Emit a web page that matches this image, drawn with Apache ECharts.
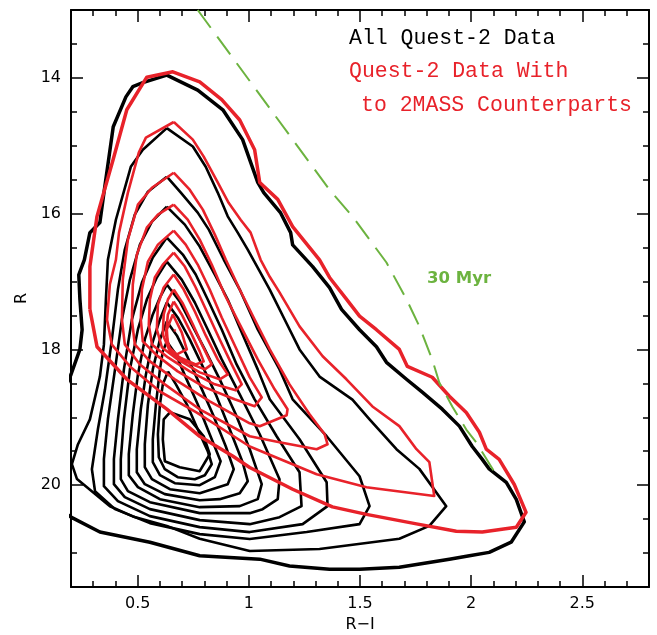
<!DOCTYPE html>
<html>
<head>
<meta charset="utf-8">
<script src="https://cdn.jsdelivr.net/npm/echarts@6/dist/echarts.min.js"></script>
<style>html,body{margin:0;padding:0;background:#fff}#c{width:657px;height:635px}</style>
</head>
<body>
<div id="c"></div>
<script>
// Axis ticks and labels
const xMajorTicks = [0.5, 1, 1.5, 2, 2.5];
const xMinorTicks = [0.3,0.4,0.5,0.6,0.7,0.8,0.9,1.0,1.1,1.2,1.3,1.4,1.5,1.6,1.7,1.8,1.9,2.0,2.1,2.2,2.3,2.4,2.5,2.6,2.7];
const yMajorTicks = [14, 16, 18, 20];
const yMinorTicks = [13.5,14,14.5,15,15.5,16,16.5,17,17.5,18,18.5,19,19.5,20,20.5,21];

// Black contours: All Quest-2 data  [R-I, R]
const B1 = [[0.17,18.6],[0.20,18.37],[0.24,18.0],[0.25,17.71],[0.24,17.26],[0.235,16.9],[0.26,16.68],[0.285,16.28],[0.33,16.13],[0.35,15.65],[0.39,14.72],[0.447,14.28],[0.478,14.13],[0.523,14.07],[0.631,13.96],[0.77,14.18],[0.883,14.47],[0.972,14.91],[1.04,15.54],[1.067,15.69],[1.143,15.99],[1.188,16.28],[1.197,16.46],[1.287,16.78],[1.363,17.09],[1.417,17.41],[1.498,17.71],[1.574,17.96],[1.619,18.19],[1.709,18.44],[1.78,18.63],[1.87,18.88],[1.947,19.13],[2.005,19.43],[2.05,19.62],[2.081,19.76],[2.158,19.96],[2.203,20.21],[2.239,20.54],[2.18,20.84],[2.081,20.99],[1.992,21.04],[1.902,21.09],[1.677,21.21],[1.498,21.24],[1.363,21.24],[1.183,21.19],[1.049,21.09],[0.779,21.04],[0.555,20.84],[0.33,20.69],[0.20,20.47],[0.17,20.4]];
const B2 = [[0.631,14.74],[0.748,15.01],[0.806,15.31],[0.86,15.69],[0.905,16.04],[0.95,16.28],[0.995,16.53],[1.049,16.85],[1.094,17.12],[1.161,17.56],[1.228,18.0],[1.318,18.4],[1.466,18.74],[1.543,19.03],[1.664,19.47],[1.767,19.76],[1.888,20.31],[1.812,20.6],[1.677,20.79],[1.318,20.94],[1.004,20.97],[0.779,20.79],[0.631,20.6],[0.478,20.46],[0.375,20.31],[0.227,19.91],[0.204,19.69],[0.231,19.4],[0.285,19.03],[0.33,18.4],[0.348,17.93],[0.357,17.26],[0.366,16.68],[0.402,16.09],[0.469,15.31],[0.523,15.06],[0.631,14.74]];
const B3 = [[0.631,15.456],[0.694,15.691],[0.77,15.985],[0.82,16.235],[0.887,16.676],[0.959,17.118],[1.04,17.706],[1.138,18.294],[1.197,18.735],[1.35,19.279],[1.498,19.868],[1.543,20.309],[1.498,20.574],[1.26,20.691],[1.004,20.794],[0.779,20.721],[0.555,20.559],[0.398,20.353],[0.308,20.088],[0.294,19.765],[0.321,19.176],[0.353,18.588],[0.384,17.853],[0.411,17.118],[0.442,16.529],[0.487,16.015],[0.546,15.676],[0.631,15.456]];
const B4 = [[0.631,15.897],[0.712,16.162],[0.779,16.485],[0.847,16.897],[0.905,17.265],[0.972,17.779],[1.04,18.294],[1.094,18.735],[1.228,19.324],[1.35,19.956],[1.354,20.309],[1.242,20.574],[1.004,20.691],[0.779,20.618],[0.555,20.456],[0.411,20.235],[0.348,20.015],[0.348,19.618],[0.366,19.029],[0.398,18.294],[0.429,17.559],[0.465,16.971],[0.51,16.456],[0.564,16.118],[0.631,15.897]];
const B5 = [[0.631,16.353],[0.703,16.603],[0.761,16.897],[0.815,17.265],[0.878,17.706],[0.945,18.221],[1.026,18.735],[1.125,19.279],[1.228,19.809],[1.237,20.309],[1.138,20.471],[1.004,20.574],[0.779,20.515],[0.555,20.353],[0.442,20.176],[0.393,19.985],[0.393,19.618],[0.411,19.029],[0.438,18.294],[0.474,17.559],[0.519,17.015],[0.568,16.647],[0.631,16.353]];
const B6 = [[0.631,16.706],[0.698,16.971],[0.757,17.309],[0.815,17.706],[0.878,18.147],[0.959,18.662],[1.049,19.25],[1.138,19.912],[1.13,20.206],[1.062,20.353],[1.004,20.412],[0.779,20.412],[0.555,20.25],[0.456,20.088],[0.424,19.912],[0.424,19.618],[0.438,19.029],[0.465,18.294],[0.501,17.706],[0.541,17.265],[0.586,16.941],[0.631,16.706]];
const B7 = [[0.631,17.044],[0.689,17.294],[0.743,17.632],[0.802,18.0],[0.869,18.441],[0.941,18.956],[1.004,19.471],[1.058,19.985],[1.04,20.206],[0.959,20.309],[0.779,20.324],[0.6,20.206],[0.501,20.029],[0.46,19.853],[0.46,19.544],[0.478,18.956],[0.501,18.368],[0.532,17.853],[0.568,17.485],[0.6,17.235],[0.631,17.044]];
const B8 = [[0.631,17.309],[0.68,17.529],[0.734,17.853],[0.788,18.221],[0.851,18.662],[0.914,19.176],[0.972,19.662],[0.995,19.941],[0.959,20.118],[0.869,20.206],[0.779,20.221],[0.622,20.132],[0.532,19.985],[0.496,19.809],[0.496,19.471],[0.514,18.882],[0.537,18.368],[0.564,17.926],[0.6,17.559],[0.631,17.309]];
const B9 = [[0.631,17.588],[0.676,17.794],[0.725,18.118],[0.779,18.515],[0.838,18.956],[0.896,19.426],[0.932,19.765],[0.905,19.985],[0.779,20.118],[0.645,20.059],[0.564,19.912],[0.532,19.735],[0.532,19.397],[0.546,18.809],[0.568,18.294],[0.6,17.853],[0.631,17.588]];
const B10 = [[0.631,17.882],[0.672,18.074],[0.716,18.412],[0.77,18.809],[0.824,19.25],[0.873,19.647],[0.847,19.882],[0.779,20.0],[0.667,19.971],[0.6,19.853],[0.568,19.662],[0.568,19.324],[0.582,18.809],[0.6,18.294],[0.613,18.029],[0.631,17.882]];
const B11 = [[0.636,18.324],[0.672,18.515],[0.721,18.809],[0.77,19.176],[0.815,19.5],[0.833,19.691],[0.802,19.853],[0.757,19.912],[0.68,19.882],[0.622,19.765],[0.595,19.588],[0.591,19.25],[0.6,18.809],[0.613,18.515],[0.636,18.324]];
const B12 = [[0.645,18.926],[0.734,19.029],[0.797,19.279],[0.824,19.544],[0.779,19.794],[0.689,19.735],[0.622,19.647],[0.613,19.324],[0.617,19.029],[0.645,18.926]];

// Red contours: Quest-2 data with 2MASS counterparts
const R1 = [[0.285,17.41],[0.285,16.78],[0.317,16.04],[0.389,15.21],[0.451,14.47],[0.541,13.99],[0.658,13.91],[0.779,14.06],[0.878,14.32],[0.959,14.62],[1.026,15.06],[1.049,15.54],[1.13,15.79],[1.197,16.19],[1.318,16.68],[1.363,16.94],[1.439,17.26],[1.498,17.51],[1.574,17.71],[1.677,18.0],[1.713,18.25],[1.825,18.41],[1.902,18.69],[1.978,18.93],[2.037,19.22],[2.068,19.47],[2.126,19.62],[2.194,19.99],[2.247,20.4],[2.203,20.62],[2.05,20.69],[1.933,20.68],[1.754,20.57],[1.529,20.43],[1.376,20.32],[1.197,20.06],[1.004,19.74],[0.927,19.57],[0.779,19.28],[0.631,18.88],[0.451,18.44],[0.317,17.96],[0.285,17.41]];
const R2 = [[0.6625,14.65],[0.748,14.91],[0.797,15.16],[0.86,15.54],[0.909,15.84],[0.963,16.09],[1.008,16.28],[1.053,16.68],[1.094,16.93],[1.138,17.16],[1.228,17.66],[1.332,18.1],[1.439,18.44],[1.556,18.84],[1.677,19.13],[1.754,19.47],[1.812,19.66],[1.834,20.16],[1.529,20.03],[1.305,19.84],[1.004,19.43],[0.766,18.93],[0.6,18.62],[0.465,18.25],[0.384,17.93],[0.362,17.56],[0.375,17.04],[0.402,16.68],[0.416,16.28],[0.456,15.69],[0.505,15.1],[0.537,14.88],[0.6625,14.65]];
const R3 = [[0.662,15.397],[0.734,15.647],[0.793,15.941],[0.847,16.309],[0.896,16.676],[0.959,17.118],[1.026,17.559],[1.094,18.0],[1.183,18.515],[1.273,18.956],[1.341,19.25],[1.354,19.397],[1.305,19.471],[1.138,19.368],[1.004,19.279],[0.779,18.882],[0.622,18.515],[0.51,18.221],[0.442,17.926],[0.429,17.559],[0.433,16.971],[0.456,16.382],[0.501,15.868],[0.564,15.618],[0.662,15.397]];
const R4 = [[0.662,15.868],[0.725,16.088],[0.779,16.382],[0.833,16.75],[0.891,17.191],[0.959,17.632],[1.04,18.147],[1.116,18.588],[1.174,18.882],[1.17,18.971],[1.049,19.132],[1.004,19.088],[0.824,18.765],[0.667,18.441],[0.555,18.176],[0.487,17.926],[0.474,17.559],[0.478,17.044],[0.496,16.603],[0.541,16.206],[0.591,16.015],[0.662,15.868]];
const R5 = [[0.662,16.25],[0.716,16.456],[0.77,16.75],[0.824,17.118],[0.878,17.529],[0.941,17.971],[1.004,18.412],[1.058,18.706],[1.026,18.838],[0.936,18.735],[0.802,18.559],[0.68,18.324],[0.586,18.088],[0.523,17.882],[0.514,17.559],[0.519,17.118],[0.546,16.706],[0.591,16.456],[0.662,16.25]];
const R6 = [[0.662,16.574],[0.712,16.779],[0.761,17.088],[0.811,17.441],[0.869,17.853],[0.923,18.221],[0.968,18.515],[0.941,18.603],[0.847,18.515],[0.734,18.324],[0.636,18.118],[0.564,17.926],[0.55,17.632],[0.555,17.265],[0.577,16.941],[0.613,16.75],[0.662,16.574]];
const R7 = [[0.662,16.897],[0.707,17.118],[0.757,17.441],[0.806,17.794],[0.86,18.147],[0.905,18.368],[0.869,18.441],[0.779,18.338],[0.68,18.147],[0.609,17.971],[0.586,17.706],[0.591,17.338],[0.617,17.088],[0.662,16.897]];
const R8 = [[0.662,17.118],[0.703,17.324],[0.748,17.632],[0.793,17.956],[0.833,18.221],[0.802,18.294],[0.712,18.176],[0.645,18.029],[0.613,17.779],[0.617,17.485],[0.636,17.265],[0.662,17.118]];
const R9 = [[0.662,17.294],[0.698,17.485],[0.743,17.779],[0.779,18.029],[0.797,18.176],[0.761,18.221],[0.689,18.118],[0.645,18.0],[0.627,17.779],[0.636,17.485],[0.662,17.294]];
const R10 = [[0.658,17.485],[0.698,17.75],[0.721,18.0],[0.676,18.074],[0.636,17.956],[0.631,17.706],[0.658,17.485]];
const redPeak = [[0.667,17.72]];

// 30 Myr isochrone
const iso30 = [[0.77,13.0],[1.363,15.65],[1.466,16.04],[1.619,16.72],[1.709,17.26],[1.767,17.66],[1.825,18.15],[1.857,18.49],[1.915,18.84],[1.978,19.18],[2.023,19.37],[2.117,19.87]];

const blackSet = [B1,B2,B3,B4,B5,B6,B7,B8,B9,B10,B11,B12];
const redSet = [R1,R2,R3,R4,R5,R6,R7,R8,R9,R10];

const RED = '#e8222a', GREEN = '#6cb33f';
function contour(data, color, width, z) {
  return {type:'line', data:data, symbol:'none', showSymbol:false, silent:true, clip:true,
    lineStyle:{color:color, width:width, join:'round'}, z:z, animation:false};
}
const series = [];
blackSet.forEach((c,i)=>series.push(contour(c,'#000', i===0?3.5:2.6, 2)));
redSet.forEach((c,i)=>series.push(contour(c,RED, i===0?3.5:2.6, 3)));
series.push({type:'scatter', data:redPeak, symbol:'rect', symbolSize:2.5, itemStyle:{color:RED}, silent:true, z:3, animation:false});
series.push({type:'line', data:iso30, symbol:'none', silent:true, clip:true, z:4, animation:false,
  lineStyle:{color:GREEN, width:2, type:[22,11]}});

const labelFont = {color:'#000', fontFamily:'DejaVu Sans', fontSize:16};
function xAx(pos, ticks, len, labels, line) {
  return {type:'value', min:0.2, max:2.8, position:pos, splitLine:{show:false},
    axisLine:{show:line, onZero:false, lineStyle:{color:'#000', width:2}},
    axisTick:{show:true, inside:true, length:len, customValues:ticks, lineStyle:{color:'#000', width:1.5}},
    axisLabel:labels ? Object.assign({customValues:xMajorTicks, margin:9}, labelFont) : {show:false},
    name: labels ? 'R\u2212I' : '', nameLocation:'middle', nameGap:29,
    nameTextStyle:labelFont};
}
function yAx(pos, ticks, len, labels, line) {
  return {type:'value', min:13, max:21.5, inverse:true, position:pos, splitLine:{show:false},
    axisLine:{show:line, onZero:false, lineStyle:{color:'#000', width:2}},
    axisTick:{show:true, inside:true, length:len, customValues:ticks, lineStyle:{color:'#000', width:1.5}},
    axisLabel:labels ? Object.assign({customValues:yMajorTicks, margin:10}, labelFont) : {show:false},
    name: labels ? 'R' : '', nameLocation:'middle', nameGap:35, nameRotate:90,
    nameTextStyle:labelFont};
}

const chart = echarts.init(document.getElementById('c'), null, {renderer:'canvas'});
chart.setOption({
  animation:false,
  backgroundColor:'#fff',
  grid:{left:71, right:8, top:10, bottom:48, containLabel:false, outerBoundsMode:'none'},
  xAxis:[xAx('bottom', xMajorTicks, 12, true, true), xAx('bottom', xMinorTicks, 6, false, false),
         xAx('top', xMajorTicks, 12, false, true), xAx('top', xMinorTicks, 6, false, false)],
  yAxis:[yAx('left', yMajorTicks, 12, true, true), yAx('left', yMinorTicks, 6, false, false),
         yAx('right', yMajorTicks, 12, false, true), yAx('right', yMinorTicks, 6, false, false)],
  series: series,
  graphic:[
    {type:'text', left:349, top:27, style:{text:'All Quest-2 Data', fill:'#000', font:'21.5px "Liberation Mono"'}},
    {type:'text', left:349, top:60, style:{text:'Quest-2 Data With', fill:RED, font:'21.5px "Liberation Mono"'}},
    {type:'text', left:361, top:94, style:{text:'to 2MASS Counterparts', fill:RED, font:'21.5px "Liberation Mono"'}},
    {type:'text', left:427, top:270, style:{text:'30 Myr', fill:GREEN, font:'bold 16.5px "DejaVu Sans"'}}
  ]
});
</script>
</body>
</html>
